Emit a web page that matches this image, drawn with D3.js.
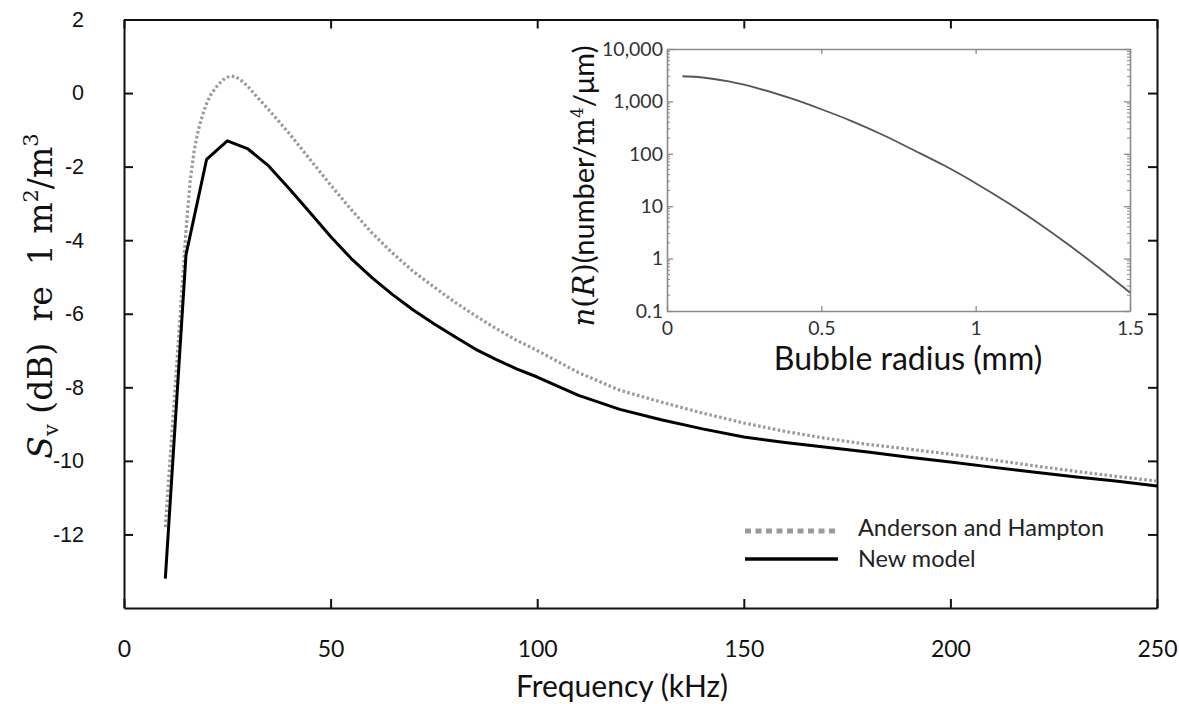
<!DOCTYPE html>
<html><head><meta charset="utf-8">
<script src="https://cdn.jsdelivr.net/npm/d3@7"></script>
<style>
body{margin:0;background:#fff;}
svg{display:block;}
text{white-space:pre;}
</style></head>
<body>
<script>
// ---- Main chart data ----
const freqAH = [10,11,12,13,14,15,16,17,18,19,20,21,22,23,24,25,26,27,28,30,32,35,40,45,50,55,60,65,70,75,80,85,90,95,100,110,120,130,140,150,160,170,180,190,200,210,220,230,240,250];
const svAH = [-11.8,-10.2,-8.6,-7.0,-5.35,-3.75,-2.4,-1.55,-1.0,-0.6,-0.28,-0.05,0.12,0.25,0.36,0.43,0.46,0.44,0.38,0.18,-0.08,-0.45,-1.1,-1.8,-2.5,-3.17,-3.8,-4.35,-4.85,-5.27,-5.68,-6.05,-6.4,-6.72,-7.0,-7.6,-8.08,-8.4,-8.7,-8.97,-9.2,-9.39,-9.55,-9.68,-9.82,-9.97,-10.13,-10.28,-10.42,-10.55];
const freqNew = [10,15,20,25,30,35,40,45,50,55,60,65,70,75,80,85,90,95,100,110,120,130,140,150,160,170,180,190,200,210,220,230,240,250];
const svNew = [-13.2,-4.4,-1.8,-1.3,-1.52,-1.98,-2.6,-3.25,-3.9,-4.5,-5.02,-5.48,-5.9,-6.27,-6.62,-6.96,-7.24,-7.5,-7.72,-8.22,-8.6,-8.88,-9.13,-9.35,-9.5,-9.63,-9.76,-9.9,-10.03,-10.17,-10.3,-10.43,-10.55,-10.68];
const xTicks = [0,50,100,150,200,250];
const yTicks = [2,0,-2,-4,-6,-8,-10,-12];
const legendLabels = ["Anderson and Hampton","New model"];

// ---- Inset data ----
const radius = [0.05,0.1,0.2,0.3,0.4,0.5,0.6,0.7,0.8,0.9,1.0,1.1,1.2,1.3,1.4,1.5];
const nR = [3020,2920,2400,1740,1150,708,417,229,117,59,27.5,12.0,4.9,1.86,0.66,0.224];
const insetXTicks = [0,0.5,1,1.5];
const insetYTicks = [0.1,1,10,100,1000,10000];

const W=1179,H=704;
const svg=d3.select("body").append("svg").attr("width",W).attr("height",H);

const x=d3.scaleLinear().domain([0,250]).range([124,1157]);
const y=d3.scaleLinear().domain([-14,2]).range([608,19.5]);

const tickFont="Lato, 'Open Sans', sans-serif";

// axes
const gB=svg.append("g").attr("transform",`translate(0,${y(-14)})`)
  .call(d3.axisBottom(x).tickValues(xTicks).tickSizeInner(-9).tickSizeOuter(0).tickPadding(33).tickFormat(d3.format("d")));
const gT=svg.append("g").attr("transform",`translate(0,${y(2)})`)
  .call(d3.axisTop(x).tickValues(xTicks).tickSizeInner(-9).tickSizeOuter(0).tickFormat(""));
const gL=svg.append("g").attr("transform",`translate(${x(0)},0)`)
  .call(d3.axisLeft(y).tickValues(yTicks).tickSizeInner(-9).tickSizeOuter(0).tickPadding(40).tickFormat(d=>d));
const gR=svg.append("g").attr("transform",`translate(${x(250)},0)`)
  .call(d3.axisRight(y).tickValues(yTicks).tickSizeInner(-9).tickSizeOuter(0).tickFormat(""));
[gB,gT,gL,gR].forEach(g=>{
  g.select(".domain").attr("stroke","#111").attr("stroke-width",2);
  g.selectAll(".tick line").attr("stroke","#111").attr("stroke-width",2);
});
gB.selectAll("text").attr("font-family",tickFont).attr("font-size",23).attr("fill","#111");
gL.selectAll("text").attr("font-family","'Liberation Sans', Arial, sans-serif").attr("font-size",21.5).attr("fill","#111");

// axis labels
svg.append("text").attr("x",622).attr("y",697).attr("text-anchor","middle")
  .attr("font-family",tickFont).attr("font-size",30).attr("fill","#111").text("Frequency (kHz)");

const yl=svg.append("text").attr("transform","translate(52,296) rotate(-90)").attr("text-anchor","middle")
  .attr("font-family","'DejaVu Serif','Liberation Serif',serif").attr("font-size",33).attr("fill","#111");
yl.append("tspan").attr("font-style","italic").text("S");
yl.append("tspan").attr("font-size",21).attr("dy",6).text("v");
yl.append("tspan").attr("dy",-6).text(" (dB)  re  1 m");
yl.append("tspan").attr("font-size",21).attr("dy",-14).text("2");
yl.append("tspan").attr("dy",14).text("/m");
yl.append("tspan").attr("font-size",21).attr("dy",-14).text("3");

// lines
const line=d3.line().x(d=>x(d[0])).y(d=>y(d[1]));
svg.append("path").datum(d3.zip(freqAH,svAH)).attr("d",line)
  .attr("fill","none").attr("stroke","#9a9a9a").attr("stroke-width",3.2).attr("stroke-dasharray","2.6,2.4");
svg.append("path").datum(d3.zip(freqNew,svNew)).attr("d",line)
  .attr("fill","none").attr("stroke","#000").attr("stroke-width",3).attr("stroke-linejoin","round");

// legend
svg.append("line").attr("x1",745).attr("x2",838).attr("y1",531).attr("y2",531)
  .attr("stroke","#9a9a9a").attr("stroke-width",5).attr("stroke-dasharray","6,4.5");
svg.append("line").attr("x1",745).attr("x2",838).attr("y1",559).attr("y2",559)
  .attr("stroke","#000").attr("stroke-width",3.5);
svg.append("text").attr("x",858).attr("y",536).attr("font-family",tickFont).attr("font-size",23.5).attr("fill","#222").text(legendLabels[0]);
svg.append("text").attr("x",858).attr("y",567).attr("font-family",tickFont).attr("font-size",23.5).attr("fill","#222").text(legendLabels[1]);

// ---- inset ----
const xi=d3.scaleLinear().domain([0,1.5]).range([667,1130]);
const yi=d3.scaleLog().domain([0.1,10000]).range([311,49]);
const grey="#8a8a8a";
const minor=[];
for(let e=-1;e<4;e++){for(let k=2;k<10;k++){minor.push(k*Math.pow(10,e));}}
const gi=svg.append("g");
gi.selectAll("line.mnl").data(minor).join("line").attr("x1",xi(0)).attr("x2",xi(0)+3).attr("y1",d=>yi(d)).attr("y2",d=>yi(d)).attr("stroke",grey).attr("stroke-width",1);
gi.selectAll("line.mnr").data(minor).join("line").attr("x1",xi(1.5)).attr("x2",xi(1.5)-3).attr("y1",d=>yi(d)).attr("y2",d=>yi(d)).attr("stroke",grey).attr("stroke-width",1);

const iB=svg.append("g").attr("transform",`translate(0,${yi(0.1)})`)
  .call(d3.axisBottom(xi).tickValues(insetXTicks).tickSizeInner(-5).tickSizeOuter(0).tickPadding(10).tickFormat(d=>d));
const iT=svg.append("g").attr("transform",`translate(0,${yi(10000)})`)
  .call(d3.axisTop(xi).tickValues(insetXTicks).tickSizeInner(-5).tickSizeOuter(0).tickFormat(""));
const iL=svg.append("g").attr("transform",`translate(${xi(0)},0)`)
  .call(d3.axisLeft(yi).tickValues(insetYTicks).tickSizeInner(-6).tickSizeOuter(0).tickPadding(4).tickFormat(d=>d<1?"0.1":d3.format(",")(d)));
const iR=svg.append("g").attr("transform",`translate(${xi(1.5)},0)`)
  .call(d3.axisRight(yi).tickValues(insetYTicks).tickSizeInner(-6).tickSizeOuter(0).tickFormat(""));
[iB,iT,iL,iR].forEach(g=>{
  g.select(".domain").attr("stroke",grey).attr("stroke-width",1.6);
  g.selectAll(".tick line").attr("stroke",grey).attr("stroke-width",1.3);
  g.selectAll("text").attr("font-family",tickFont).attr("font-size",19.5).attr("fill","#333");
});

svg.append("path").datum(d3.zip(radius,nR))
  .attr("d",d3.line().x(d=>xi(d[0])).y(d=>yi(d[1])).curve(d3.curveMonotoneX))
  .attr("fill","none").attr("stroke","#555").attr("stroke-width",1.8);

svg.append("text").attr("x",908).attr("y",370).attr("text-anchor","middle")
  .attr("font-family",tickFont).attr("font-size",32).attr("fill","#111").text("Bubble radius (mm)");

const il=svg.append("text").attr("transform","translate(594,186) rotate(-90)").attr("text-anchor","middle")
  .attr("font-size",29).attr("fill","#111");
il.append("tspan").attr("font-family","'DejaVu Serif',serif").attr("font-style","italic").text("n");
il.append("tspan").attr("font-family","'DejaVu Serif',serif").text("(");
il.append("tspan").attr("font-family","'DejaVu Serif',serif").attr("font-style","italic").text("R");
il.append("tspan").attr("font-family","'DejaVu Serif',serif").text(")");
il.append("tspan").attr("font-family",tickFont).text("(number/");
il.append("tspan").attr("font-family","'DejaVu Serif',serif").text("m");
il.append("tspan").attr("font-family","'DejaVu Serif',serif").attr("font-size",17).attr("dy",-11).text("4");
il.append("tspan").attr("font-family",tickFont).attr("dy",11).text("/μm)");
</script>
</body></html>
